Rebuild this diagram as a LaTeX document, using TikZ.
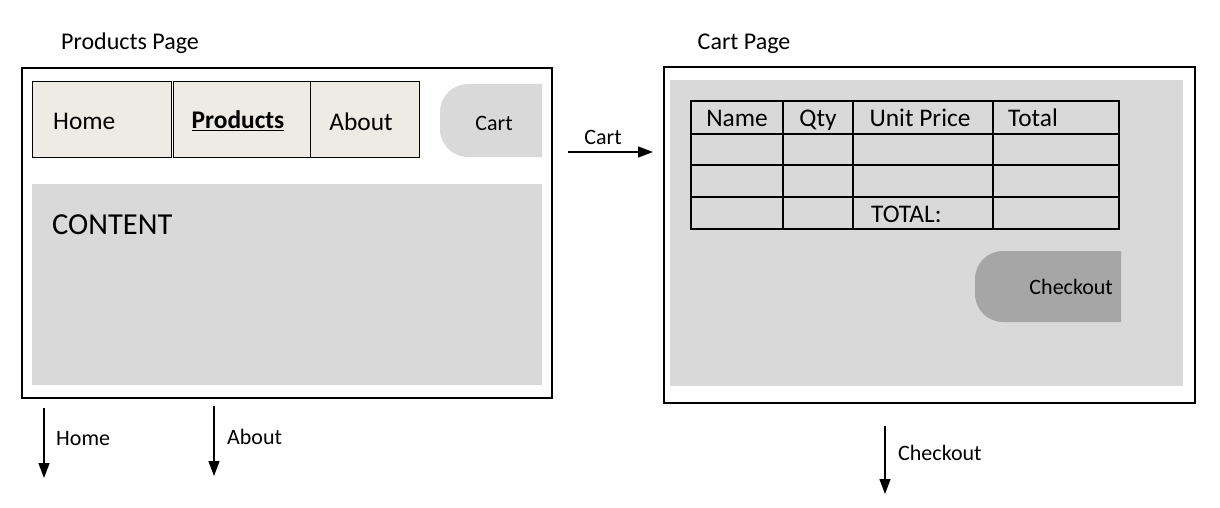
\documentclass[tikz,border=0pt]{standalone}
\usepackage{fontspec}
\setmainfont{Carlito}
\usetikzlibrary{arrows.meta}
\definecolor{navfill}{HTML}{EDEBE4}
\definecolor{lightgray}{HTML}{D9D9D9}
\definecolor{btngray}{HTML}{A6A6A6}
\tikzset{
  pagebox/.style={draw=black, line width=1.2pt},
  navbox/.style={draw=black, line width=1pt, fill=navfill},
  tblline/.style={draw=black, line width=1.5pt},
  flow/.style={line width=1.3pt, -{Triangle[length=15pt,width=11pt]}},
  lbl/.style={inner sep=0pt, font=\fontsize{22}{26}\selectfont},
  title/.style={inner sep=0pt, font=\fontsize{24}{28}\selectfont},
  navtxt/.style={inner sep=0pt, font=\fontsize{25.4}{30}\selectfont},
  hdr/.style={inner sep=0pt, anchor=base, font=\fontsize{25.4}{30}\selectfont},
}
\begin{document}
\begin{tikzpicture}[x=1pt,y=-1pt]
\useasboundingbox (0,0) rectangle (1220,508);
% ---------- Products page ----------
\node[title, anchor=base] (ptitle) at (130,50) {Products Page};
\draw[pagebox] (22,68) rectangle (552,398);
\draw[navbox] (32,82) rectangle (171,157);
\draw[navbox] (173,82) rectangle (310,157);
\draw[navbox] (310,82) rectangle (419,157);
\node[navtxt, anchor=base west] (home) at (53,129) {Home};
\node[navtxt, font=\fontsize{25.4}{30}\selectfont\bfseries] (products) at (238,121) {\underline{Products}};
\node[navtxt, anchor=base] (about) at (361,131) {About};
\fill[lightgray] (542,84) [rounded corners=28pt] -- (440,84) -- (440,157) [sharp corners] -- (542,157) -- cycle;
\node[lbl] (cartbtn) at (494,123) {Cart};
\fill[lightgray] (32,184) rectangle (542,385);
\node[inner sep=0pt, anchor=base west, font=\fontsize{30.5}{36}\selectfont] (content) at (52,234) {CONTENT};
% ---------- Cart arrow ----------
\coordinate (c1) at (568,152);
\coordinate (c2) at (653,152);
\draw[flow] (c1) -- (c2);
\node[lbl] (cartlbl) at (603,137) {Cart};
% ---------- Cart page ----------
\node[title, anchor=base] (ctitle) at (744,50) {Cart Page};
\draw[pagebox] (664,67) rectangle (1195,403);
\fill[lightgray] (670,80) rectangle (1183,386);
% table
\draw[tblline] (691,101) rectangle (1119,229);
\draw[tblline] (691,134) -- (1119,134);
\draw[tblline] (691,165) -- (1119,165);
\draw[tblline] (691,197) -- (1119,197);
\draw[tblline] (783,101) -- (783,229);
\draw[tblline] (853,101) -- (853,229);
\draw[tblline] (993,101) -- (993,229);
\node[hdr] (hname) at (737,127) {Name};
\node[hdr] (hqty) at (818,127) {Qty};
\node[hdr] (hunit) at (920,127) {Unit Price};
\node[hdr, anchor=base west] (htotal) at (1008,127) {Total};
\node[hdr, anchor=base west] (ttotal) at (871,222) {TOTAL:};
% checkout button
\fill[btngray] (1121,251) [rounded corners=28pt] -- (975,251) -- (975,322) [sharp corners] -- (1121,322) -- cycle;
\node[lbl, anchor=east] (checkbtn) at (1113,287) {Checkout};
% ---------- down arrows ----------
\coordinate (h1) at (44,408);
\coordinate (h2) at (44,478);
\draw[flow] (h1) -- (h2);
\node[lbl, anchor=west] (homelbl) at (56,439) {Home};
\coordinate (a1) at (214,406);
\coordinate (a2) at (214,476);
\draw[flow] (a1) -- (a2);
\node[lbl, anchor=west] (aboutlbl) at (227,437) {About};
\coordinate (k1) at (885,426);
\coordinate (k2) at (885,494);
\draw[flow] (k1) -- (k2);
\node[lbl, anchor=west] (checklbl) at (898,453) {Checkout};
\end{tikzpicture}
\end{document}
